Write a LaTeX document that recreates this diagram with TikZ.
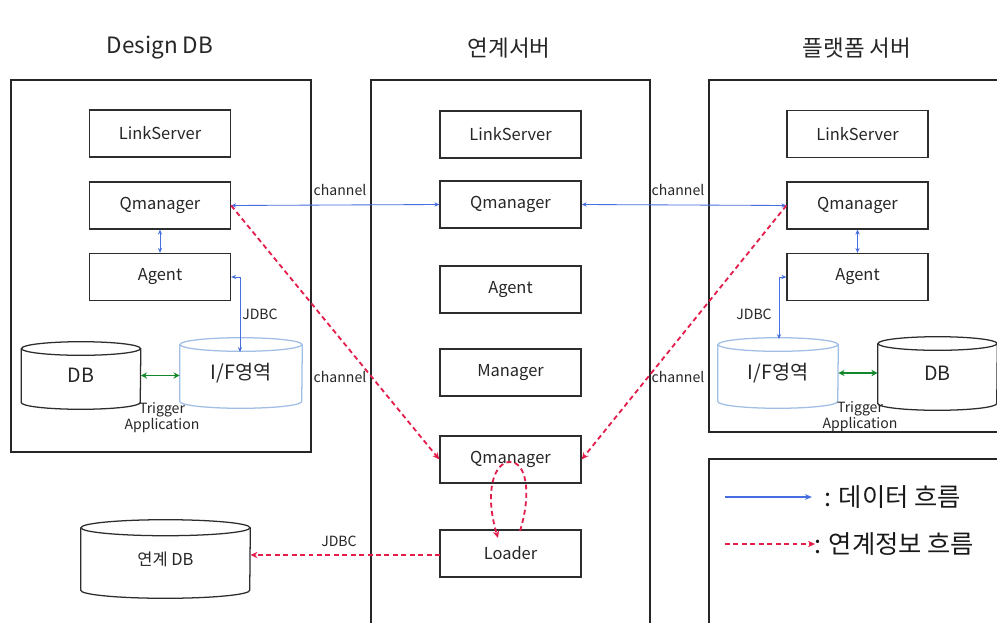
\documentclass[tikz,border=0pt]{standalone}
\usepackage{fontspec}
\setmainfont{Noto Sans CJK KR}
\usetikzlibrary{arrows.meta}
\definecolor{dblue}{RGB}{70,110,225}
\definecolor{lblue}{RGB}{160,190,230}
\definecolor{dred}{RGB}{228,30,75}
\definecolor{dgreen}{RGB}{20,135,45}
\definecolor{boxc}{RGB}{45,45,45}
\newcommand\drawcyl[4]{%
  \draw[#1] ([yshift=-#4]#2.north west) -- ([yshift=#4]#2.south west)
    arc[start angle=180,end angle=360,x radius=#3,y radius=#4]
    -- ([yshift=-#4]#2.north east);
  \draw[#1] ([yshift=-#4]#2.north) ellipse[x radius=#3,y radius=#4];}
\begin{document}
\begin{tikzpicture}[x=0.025cm,y=-0.025cm,
  box/.style={draw=boxc, line width=0.9pt, minimum width=3.525cm, minimum height=1.175cm,
    inner sep=0pt, font=\fontsize{11.7}{14}\selectfont, text=black!85},
  cylnode/.style={inner sep=0pt, font=\fontsize{14}{16}\selectfont, text=black!85},
  cont/.style={draw=black!85, line width=0.9pt},
  title/.style={font=\fontsize{16}{19}\selectfont, text=black!85},
  bl/.style={draw=dblue, line width=0.6pt},
  blarr/.style={bl, {Stealth[length=3.5pt,width=3pt]}-{Stealth[length=3.5pt,width=3pt]}},
  rd/.style={draw=dred, line width=1.3pt, dash pattern=on 3.5pt off 2.5pt},
  rdarr/.style={rd, -{Stealth[length=5pt,width=4.5pt]}},
  grarr/.style={draw=dgreen, line width=1.2pt, {Stealth[length=4.5pt,width=4.5pt]}-{Stealth[length=4.5pt,width=4.5pt]}},
  lbl/.style={font=\fontsize{10}{12}\selectfont, text=black!85, inner sep=1pt},
  leg/.style={font=\fontsize{18}{21}\selectfont, text=black!90, anchor=west, inner sep=0pt}
]
\clip (0,0) rectangle (997,623);
\fill[white] (0,0) rectangle (997,623);

% titles
\node[title] (t1) at (160,48) {Design DB};
\node[title] (t2) at (509,48) {연계서버};
\node[title] (t3) at (857,48) {플랫폼 서버};

% containers
\draw[cont] (11,80) rectangle (311,452);
\draw[cont] (371,80) rectangle (650,640);
\draw[cont] (709,80) rectangle (1010,432);
\draw[cont] (709,459) rectangle (1010,640);

% left boxes
\node[box] (lls) at (160,133.5) {LinkServer};
\node[box] (lq) at (160,205.5) {Qmanager};
\node[box] (la) at (160,277) {Agent};
% middle boxes
\node[box] (mls) at (510.5,134.5) {LinkServer};
\node[box] (mq) at (510.5,204.5) {Qmanager};
\node[box] (ma) at (510.5,289.5) {Agent};
\node[box] (mm) at (510.5,372.5) {Manager};
\node[box] (mq2) at (510.5,459.5) {Qmanager};
\node[box] (ld) at (510.5,553.5) {Loader};
% right boxes
\node[box] (rls) at (857.5,134) {LinkServer};
\node[box] (rq) at (857.5,205.5) {Qmanager};
\node[box] (ra) at (857.5,277) {Agent};

% cylinders
\node[cylnode, minimum width=2.975cm, minimum height=1.675cm] (ldb) at (81,375.5) {DB};
\node[cylnode, minimum width=3.05cm, minimum height=1.75cm] (lif) at (241,373) {I/F영역};
\node[cylnode, minimum width=3cm, minimum height=1.75cm] (rif) at (778,373) {I/F영역};
\node[cylnode, minimum width=2.975cm, minimum height=1.825cm] (rdb) at (937.5,373.5) {DB};
\node[cylnode, minimum width=4.225cm, minimum height=1.95cm, font=\fontsize{11.7}{14}\selectfont] (kdb) at (165.5,559) {연계 DB};
\drawcyl{draw=boxc, line width=0.9pt}{ldb}{1.4875cm}{0.17cm}
\drawcyl{draw=lblue, line width=0.9pt}{lif}{1.525cm}{0.17cm}
\drawcyl{draw=lblue, line width=0.9pt}{rif}{1.5cm}{0.17cm}
\drawcyl{draw=boxc, line width=0.9pt}{rdb}{1.4875cm}{0.17cm}
\drawcyl{draw=boxc, line width=0.9pt}{kdb}{2.1125cm}{0.2cm}

% blue data flows
\draw[blarr] (lq.east) -- (mq.west);
\draw[blarr] (mq.east) -- (rq.west);
\draw[blarr] (lq.south) -- (la.north);
\draw[blarr] (rq.south) -- (ra.north);
\coordinate (lifj) at (240,352);
\coordinate (rifj) at (779,339);
\draw[blarr] (la.east) -| (lifj);
\draw[blarr] (ra.west) -| (rifj);

% green trigger arrows
\draw[grarr] (ldb.east) -- (ldb.east -| lif.west);
\draw[grarr] (rif.east) -- (rif.east -| rdb.west);

% red info flows
\draw[rdarr] (lq.east) -- (mq2.west);
\draw[rdarr] (rq.west) -- (mq2.east);
\coordinate (ldj) at (440,555);
\coordinate (kdbj) at (250.5,555);
\draw[rdarr] (ldj) -- (kdbj);
\coordinate (lpa) at (520,531);
\coordinate (lpt) at (510,462);
\coordinate (lpb) at (498,538);
\draw[rdarr] (lpa) .. controls (532,492) and (526,462) .. (lpt)
  .. controls (494,462) and (484,492) .. (lpb);

% labels
\node[lbl] (c1) at (340,190) {channel};
\node[lbl] (c2) at (678,190) {channel};
\node[lbl] (c3) at (340,377) {channel};
\node[lbl] (c4) at (678,377) {channel};
\node[lbl] (j1) at (260,314) {JDBC};
\node[lbl] (j2) at (754,314) {JDBC};
\node[lbl] (j3) at (339,541) {JDBC};
\node[lbl] (tr1) at (162,410) {Trigger};
\node[lbl] (ap1) at (162,426) {Application};
\node[lbl] (tr2) at (860,409) {Trigger};
\node[lbl] (ap2) at (860,425) {Application};

% legend
\coordinate (lg1a) at (725,497);
\coordinate (lg1b) at (812,497);
\coordinate (lg2a) at (725,544);
\coordinate (lg2b) at (815,544);
\draw[bl, line width=0.8pt, -{Stealth[length=5pt,width=4pt]}] (lg1a) -- (lg1b);
\draw[rdarr] (lg2a) -- (lg2b);
\node[leg] (lt1) at (824,497) {: 데이터 흐름};
\node[leg] (lt2) at (814,544) {: 연계정보 흐름};
\end{tikzpicture}
\end{document}
